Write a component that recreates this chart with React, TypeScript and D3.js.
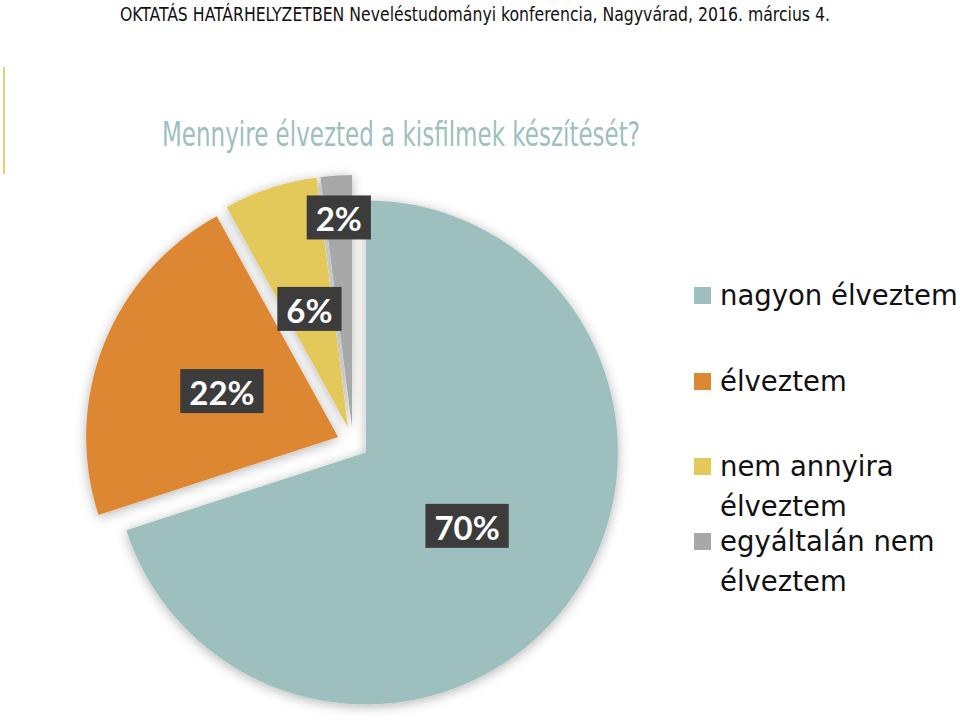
import React, { useEffect, useRef } from "react";
import * as d3 from "d3";

const categories = ["nagyon élveztem", "élveztem", "nem annyira élveztem", "egyáltalán nem élveztem"];
const legendLines = [["nagyon élveztem"], ["élveztem"], ["nem annyira", "élveztem"], ["egyáltalán nem", "élveztem"]];
const values = [70, 22, 6, 2];
const valueLabels = ["70%", "22%", "6%", "2%"];
const colors = ["#9dbfbe", "#de8731", "#e3c85a", "#a8a8a8"];
const headerText = "OKTATÁS HATÁRHELYZETBEN Neveléstudományi konferencia, Nagyvárad, 2016. március 4.";
const titleText = "Mennyire élvezted a kisfilmek készítését?";

const W = 960;
const H = 728;

export default function App() {
  const ref = useRef<SVGSVGElement | null>(null);

  useEffect(() => {
    const svg = d3.select(ref.current);
    svg.selectAll("*").remove();

    const defs = svg.append("defs");
    const f = defs.append("filter").attr("id", "shadow").attr("x", "-20%").attr("y", "-20%").attr("width", "140%").attr("height", "140%");
    f.append("feDropShadow").attr("dx", 0).attr("dy", 2).attr("stdDeviation", 6).attr("flood-color", "#000").attr("flood-opacity", 0.3);

    svg.append("rect").attr("width", W).attr("height", H).attr("fill", "#ffffff");

    // header
    svg.append("text")
      .attr("x", 120).attr("y", 21)
      .attr("font-family", "'DejaVu Sans Condensed', 'Liberation Sans Narrow', 'DejaVu Sans', sans-serif")
      .attr("font-stretch", "condensed")
      .attr("font-size", 20)
      .attr("fill", "#111")
      .attr("textLength", 710)
      .attr("lengthAdjust", "spacingAndGlyphs")
      .text(headerText);

    // left accent line
    svg.append("line").attr("x1", 4).attr("x2", 4).attr("y1", 67).attr("y2", 174)
      .attr("stroke", "#e3cf73").attr("stroke-width", 2);

    // title
    svg.append("text")
      .attr("x", 162).attr("y", 146)
      .attr("font-family", "'DejaVu Sans', sans-serif")
      .attr("font-size", 33)
      .attr("fill", "#9dbfbe")
      .attr("textLength", 478)
      .attr("lengthAdjust", "spacingAndGlyphs")
      .text(titleText);

    // pie
    const cx = 353, cy = 443, R = 252, explode = 16;
    const pie = d3.pie<number>().sort(null).value((d) => d).startAngle(0).endAngle(2 * Math.PI);
    const arcs = pie(values);
    const arcGen = d3.arc<d3.PieArcDatum<number>>().innerRadius(0).outerRadius(R);
    const labelR = [125, 125, 125, 210];

    const g = svg.append("g").attr("transform", `translate(${cx},${cy})`);
    const slices = g.append("g").attr("filter", "url(#shadow)");
    arcs.forEach((a, i) => {
      const mid = (a.startAngle + a.endAngle) / 2;
      const ox = Math.sin(mid) * explode;
      const oy = -Math.cos(mid) * explode;
      slices.append("path")
        .attr("d", arcGen(a) as string)
        .attr("transform", `translate(${ox},${oy})`)
        .attr("fill", colors[i]);
    });

    const labels = g.append("g");
    arcs.forEach((a, i) => {
      const mid = (a.startAngle + a.endAngle) / 2;
      const r = explode + labelR[i];
      const lx = Math.sin(mid) * r;
      const ly = -Math.cos(mid) * r;
      const lg = labels.append("g").attr("transform", `translate(${lx},${ly})`);
      const rect = lg.append("rect").attr("fill", "#3c3c3c");
      const t = lg.append("text")
        .attr("text-anchor", "middle")
        .attr("dominant-baseline", "central")
        .attr("y", 1)
        .attr("font-family", "Lato, 'DejaVu Sans', sans-serif")
        .attr("font-weight", "bold")
        .attr("font-size", 33)
        .attr("fill", "#ffffff")
        .text(valueLabels[i]);
      const w = (t.node() as SVGTextElement).getComputedTextLength();
      const bw = w + 18, bh = 44;
      rect.attr("x", -bw / 2).attr("y", -bh / 2).attr("width", bw).attr("height", bh);
    });

    // legend
    const legendY = [287, 373, 458, 533];
    const lgd = svg.append("g");
    categories.forEach((c, i) => {
      lgd.append("rect").attr("x", 694).attr("y", legendY[i]).attr("width", 17).attr("height", 17).attr("fill", colors[i]);
      legendLines[i].forEach((line, j) => {
        lgd.append("text")
          .attr("x", 720).attr("y", legendY[i] + 18 + j * 40)
          .attr("font-family", "'DejaVu Sans', sans-serif")
          .attr("font-size", 27.5)
          .attr("fill", "#111")
          .text(line);
      });
    });
  }, []);

  return (
    <svg ref={ref} width={W} height={H} style={{ position: "absolute", left: 0, top: 0, display: "block" }} />
  );
}
